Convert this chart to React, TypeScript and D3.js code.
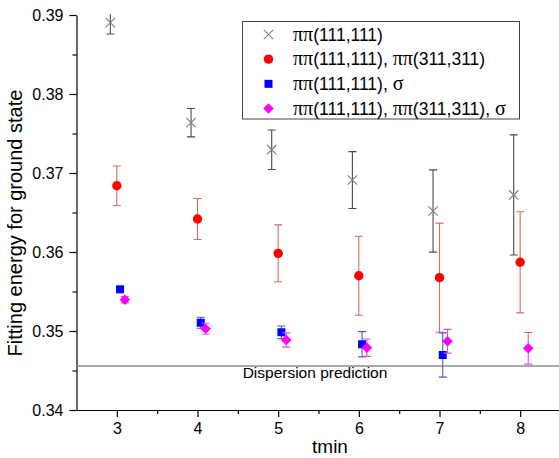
import React, { useEffect, useRef } from "react";
import * as d3 from "d3";

const tmin = [3, 4, 5, 6, 7, 8];
const seriesNames = [
  "ππ(111,111)",
  "ππ(111,111), ππ(311,311)",
  "ππ(111,111), σ",
  "ππ(111,111), ππ(311,311), σ",
];
// values and errors per series (null = no point)
const pipiOnly = [0.38903, 0.37637, 0.37295, 0.36911, 0.36519, 0.36722];
const pipiOnlyErr = [0.00143, 0.0018, 0.0025, 0.0036, 0.0052, 0.0076];
const pipiTwo = [0.36839, 0.36418, 0.35983, 0.357, 0.35675, 0.3587];
const pipiTwoErr = [0.0025, 0.0026, 0.0036, 0.005, 0.0069, 0.0064];
const pipiSigma = [0.35528, 0.35105, 0.34984, 0.34832, 0.34696, null];
const pipiSigmaErr = [0.0003, 0.0007, 0.0008, 0.0016, 0.0028, null];
const allOps = [0.35396, 0.35029, 0.34886, 0.34789, 0.3487, 0.34781];
const allOpsErr = [0.0004, 0.0007, 0.0009, 0.0011, 0.0015, 0.002];
const dispersion = 0.34557;
const yTicks = [0.34, 0.35, 0.36, 0.37, 0.38, 0.39];

const W = 559;
const H = 458;
const FONT = "'Liberation Sans', Arial, sans-serif";
const SERIF = "'Liberation Serif', 'Times New Roman', serif";

function richText(sel: any, label: string) {
  // pi and sigma come out in a serif face like the original
  const runs: { s: string; serif: boolean }[] = [];
  for (const ch of label) {
    const serif = ch === "π" || ch === "σ";
    const last = runs[runs.length - 1];
    if (last && last.serif === serif) last.s += ch;
    else runs.push({ s: ch, serif });
  }
  runs.forEach(r => {
    const ts = sel.append("tspan")
      .attr("font-family", r.serif ? SERIF : FONT)
      .text(r.s);
    if (r.serif) ts.attr("font-size", 20);
  });
}

export default function App() {
  const ref = useRef<SVGSVGElement>(null);

  useEffect(() => {
    const svg = d3.select(ref.current);
    svg.selectAll("*").remove();

    const x = d3.scaleLinear().domain([2.5, 8.5]).range([76.5, 560.5]);
    const y = d3.scaleLinear().domain([0.34, 0.39]).range([410, 15]);

    svg.append("defs").append("clipPath").attr("id", "plotclip")
      .append("rect")
      .attr("x", 76).attr("y", 14.5).attr("width", 490).attr("height", 400);

    // AXES
    const xAxis = svg.append("g")
      .attr("transform", "translate(0,410)")
      .call(d3.axisBottom(x).tickValues(tmin).tickSize(7).tickSizeOuter(0).tickPadding(6)
        .tickFormat(d3.format("d")));
    xAxis.selectAll("text").attr("font-size", 16).attr("font-family", FONT).attr("fill", "#000");
    svg.append("g")
      .attr("transform", "translate(0,410)")
      .call(d3.axisBottom(x).tickValues(d3.range(3.5, 8.5, 1)).tickSize(4).tickSizeOuter(0).tickFormat(() => ""))
      .select(".domain").remove();

    const yAxis = svg.append("g")
      .attr("transform", "translate(76.5,0)")
      .call(d3.axisLeft(y).tickValues(yTicks).tickSize(7).tickSizeOuter(0).tickPadding(6)
        .tickFormat(d3.format(".2f")));
    yAxis.selectAll("text").attr("font-size", 16).attr("font-family", FONT).attr("fill", "#000");
    svg.append("g")
      .attr("transform", "translate(76.5,0)")
      .call(d3.axisLeft(y).tickValues(d3.range(0.345, 0.39, 0.01)).tickSize(4).tickSizeOuter(0).tickFormat(() => ""))
      .select(".domain").remove();
    svg.selectAll(".domain, .tick line").attr("stroke", "#000").attr("stroke-width", 1.2);

    // axis titles
    svg.append("text")
      .attr("x", 330).attr("y", 453)
      .attr("text-anchor", "middle")
      .attr("font-size", 19).attr("font-family", FONT)
      .text("tmin");
    svg.append("text")
      .attr("transform", "translate(22,223) rotate(-90)")
      .attr("text-anchor", "middle")
      .attr("font-size", 20).attr("font-family", FONT)
      .text("Fitting energy for ground state");

    // DISPERSION LINE
    svg.append("line")
      .attr("x1", x(2.5)).attr("x2", W)
      .attr("y1", y(dispersion)).attr("y2", y(dispersion))
      .attr("stroke", "#8c8c8c").attr("stroke-width", 1.3);
    svg.append("text")
      .attr("x", 315).attr("y", 378)
      .attr("text-anchor", "middle")
      .attr("font-size", 15.5).attr("font-family", FONT)
      .text("Dispersion prediction");

    const series = [
      { vals: pipiOnly, errs: pipiOnlyErr, dx: -0.08, shape: "cross", color: "#808080", bar: "#4a4a4a" },
      { vals: pipiTwo, errs: pipiTwoErr, dx: 0, shape: "circle", color: "#ff0000", bar: "#d86a6a" },
      { vals: pipiSigma, errs: pipiSigmaErr, dx: 0.04, shape: "square", color: "#0000ff", bar: "#5555cc" },
      { vals: allOps, errs: allOpsErr, dx: 0.1, shape: "diamond", color: "#ff00ff", bar: "#e050e0" },
    ];

    const drawMarker = (g: any, shape: string, color: string, cx: number, cy: number) => {
      if (shape === "cross") {
        const s = 4.7;
        g.append("path")
          .attr("d", `M${cx - s},${cy - s}L${cx + s},${cy + s}M${cx - s},${cy + s}L${cx + s},${cy - s}`)
          .attr("stroke", color).attr("stroke-width", 1.1).attr("fill", "none");
      } else if (shape === "circle") {
        g.append("circle").attr("cx", cx).attr("cy", cy).attr("r", 4.7).attr("fill", color);
      } else if (shape === "square") {
        g.append("rect").attr("x", cx - 4).attr("y", cy - 4).attr("width", 8).attr("height", 8).attr("fill", color);
      } else {
        const s = 5.3;
        g.append("path")
          .attr("d", `M${cx},${cy - s}L${cx + s},${cy}L${cx},${cy + s}L${cx - s},${cy}Z`)
          .attr("fill", color);
      }
    };

    const plot = svg.append("g").attr("clip-path", "url(#plotclip)");

    series.forEach(sr => {
      const g = plot.append("g");
      const pts = tmin
        .map((t, i) => ({ t, v: sr.vals[i], e: sr.errs[i] }))
        .filter(d => d.v !== null) as { t: number; v: number; e: number }[];

      // ERROR BARS
      pts.forEach(d => {
        const cx = x(d.t + sr.dx);
        const y0 = y(d.v - d.e);
        const y1 = y(d.v + d.e);
        g.append("path")
          .attr("d", `M${cx},${y0}L${cx},${y1}M${cx - 4},${y0}L${cx + 4},${y0}M${cx - 4},${y1}L${cx + 4},${y1}`)
          .attr("stroke", sr.bar).attr("stroke-width", 1.1).attr("fill", "none");
      });
      // POINTS
      pts.forEach(d => drawMarker(g, sr.shape, sr.color, x(d.t + sr.dx), y(d.v)));
    });

    // LEGEND
    const legend = svg.append("g");
    legend.append("rect")
      .attr("x", 242.5).attr("y", 21.5).attr("width", 277).attr("height", 97.5)
      .attr("fill", "#fff").attr("stroke", "#444").attr("stroke-width", 1);
    const rowY = d3.scaleLinear().domain([0, 3]).range([34.5, 108.5]);
    series.forEach((sr, i) => {
      drawMarker(legend, sr.shape, sr.color, 268.5, rowY(i));
      const t = legend.append("text")
        .attr("x", 293).attr("y", rowY(i) + 6)
        .attr("font-size", 17.5).attr("font-family", FONT);
      richText(t, seriesNames[i]);
    });
  }, []);

  return (
    <div style={{ position: "absolute", left: 0, top: 0 }}>
      <svg ref={ref} width={W} height={H} style={{ display: "block", background: "#fff" }} />
    </div>
  );
}
